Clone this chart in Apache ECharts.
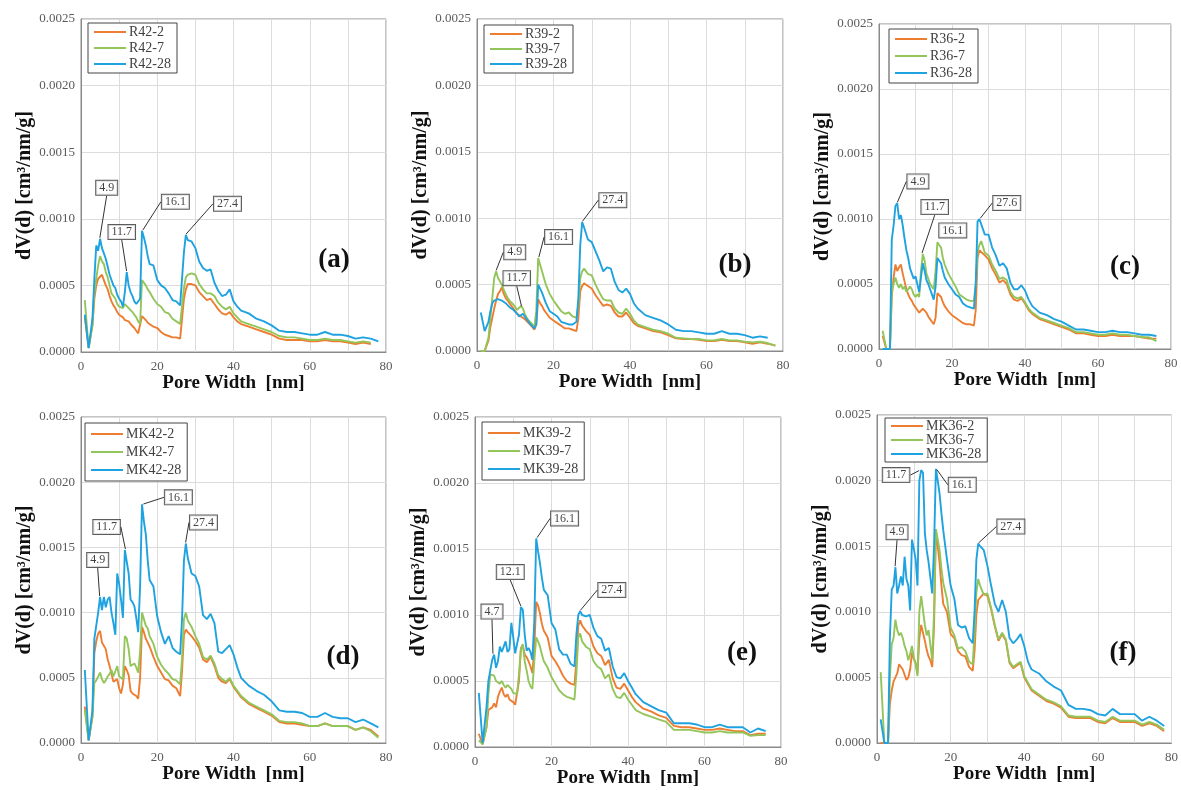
<!DOCTYPE html>
<html><head><meta charset="utf-8">
<script src="https://cdn.jsdelivr.net/npm/echarts@6/dist/echarts.min.js"></script>
<style>html,body{margin:0;padding:0;background:#fff}#c{width:1181px;height:790px}</style>
</head><body><div id="c"></div>
<script>
// Pore width grid (nm)
const X = [1,2,3, 3.5,4,4.5,5,5.5,6,6.5,7,7.5,8, 8.5,9,9.5,10,10.5,11,11.5,12,12.5,13, 13.5,14,14.5,15,15.5,16,16.5,17,17.5,18,
  19,20,21,22,23,24,25,26,26.5,27, 27.5,28,29,30,31,32,33,34,35,36, 37,38,39,40,41,42,44,46,48,50,
  52,54,56,58,60,62,64,66,68,70, 72,74,76,78];
const X_TICKS = [0,20,40,60,80];
// dV(d) values in units of 1e-4 cm3/nm/g
const R42_2 = [2.6,0.3,2.0, 4.0,5.0,5.5,5.6,5.8,5.4,5.0,4.7,4.2,3.8, 3.5,3.3,3.0,2.8,2.7,2.6,2.4,2.5,2.3,2.1, 2.0,1.8,1.6,1.4,1.3,2.7,2.6,2.4,2.2,2.1, 1.9,1.8,1.5,1.3,1.2,1.1,1.1,1.0,1.0,4.0, 4.7,5.1,5.1,5.0,4.5,4.2,3.9,4.0,3.6,3.2, 2.9,2.8,3.0,2.6,2.3,2.1,1.9,1.7,1.5,1.3, 1.0,0.9,0.9,0.9,0.8,0.8,0.9,0.8,0.8,0.7, 0.6,0.7,0.6,null];
const R42_7 = [3.9,0.3,2.0, 4.5,5.5,6.5,7.2,6.8,6.6,6.0,5.6,5.0,4.4, 4.2,4.0,3.6,3.4,3.3,3.3,3.6,3.5,3.3,3.2, 3.0,2.8,2.6,2.3,2.1,5.4,5.2,5.0,4.7,4.5, 4.0,3.6,3.4,3.0,2.9,2.5,2.3,2.1,2.0,4.8, 5.6,5.8,5.9,5.8,5.1,4.7,4.4,4.4,4.2,3.7, 3.4,3.2,3.4,2.9,2.6,2.3,2.1,1.9,1.7,1.5, 1.2,1.1,1.1,1.0,0.9,0.9,1.0,0.9,0.9,0.8, 0.7,0.8,0.7,null];
const R42_28 = [2.8,0.3,2.5, 5.5,8.0,7.6,8.5,7.8,7.4,7.0,6.4,5.8,5.4, 5.0,4.8,4.3,4.0,3.8,3.4,4.5,6.0,5.0,4.5, 4.2,3.8,3.6,3.5,4.0,9.1,8.6,8.0,7.2,6.6, 6.5,5.4,5.0,4.8,4.4,3.9,3.8,3.5,3.6,7.5, 8.8,8.4,8.3,7.8,6.8,6.3,6.1,6.2,5.2,4.6, 4.2,4.3,4.7,3.8,3.4,3.1,2.9,2.5,2.3,2.0, 1.6,1.5,1.5,1.4,1.3,1.3,1.5,1.3,1.3,1.2, 1.0,1.1,1.0,0.8];
const R39_2 = [0,0,0.8, 1.8,2.5,3.2,3.8,4.3,4.5,4.8,4.3,4.0,3.8, 3.6,3.4,3.2,3.0,2.8,2.7,2.6,2.5,2.4,2.3, 2.1,2.0,1.8,1.6,2.0,3.9,3.6,3.4,3.1,2.9, 2.5,2.3,2.1,1.9,1.7,1.7,1.6,1.5,2.5,4.5, 4.9,5.1,4.9,4.7,4.2,3.8,3.4,3.5,3.4,2.9, 2.6,2.6,2.9,2.5,2.1,1.9,1.7,1.5,1.4,1.2, 0.95,0.9,0.9,0.85,0.75,0.75,0.85,0.75,0.75,0.65, 0.55,0.65,0.55,0.4];
const R39_7 = [0,0,1.0, 2.5,4.0,5.5,6.0,5.5,5.6,5.0,4.6,4.3,4.0, 3.8,3.7,3.5,3.3,3.1,3.0,3.4,3.2,2.8,2.5, 2.3,2.2,2.0,1.8,3.0,7.0,6.5,6.0,5.5,5.0, 4.3,3.8,3.4,3.0,2.8,2.9,2.6,2.5,3.5,5.5, 6.0,6.2,5.8,5.7,5.0,4.4,3.9,3.8,3.8,3.2, 2.9,2.8,3.2,2.8,2.3,2.0,1.8,1.6,1.5,1.3, 1.0,0.95,0.9,0.9,0.8,0.8,0.9,0.8,0.8,0.7, 0.65,0.7,0.6,0.4];
const R39_28 = [2.9,1.5,2.2, 3.0,3.6,3.8,3.8,3.9,3.9,3.8,3.8,3.6,3.5, 3.3,3.2,3.1,3.0,2.8,2.6,2.7,2.8,2.6,2.4, 2.2,2.0,1.9,1.7,2.0,5.0,4.7,4.4,4.0,3.6, 3.0,2.8,2.6,2.2,2.1,2.0,2.0,2.2,4.0,8.0, 9.7,9.3,8.4,8.2,7.5,6.8,6.0,6.3,6.2,5.2, 4.6,4.4,4.7,4.3,3.6,3.2,2.7,2.5,2.3,2.0, 1.6,1.5,1.5,1.4,1.3,1.3,1.5,1.3,1.3,1.2, 1.0,1.1,1.0,null];
const R36_2 = [1.0,0,0, 4.0,5.5,6.5,6.0,6.3,6.5,5.8,5.2,4.6,4.2, 3.9,3.7,3.4,3.2,3.0,2.8,2.7,3.1,3.0,2.8, 2.5,2.3,2.1,1.9,2.4,4.3,4.2,4.0,3.6,3.3, 2.9,2.6,2.4,2.2,2.0,1.9,1.9,1.8,3.0,7.0, 7.6,7.7,7.2,6.9,6.2,5.7,5.1,5.3,5.0,4.2, 3.8,3.7,3.9,3.5,3.0,2.7,2.3,2.1,1.9,1.7, 1.5,1.2,1.2,1.1,1.0,1.0,1.1,1.0,1.0,1.0, 0.9,0.8,0.8,null];
const R36_7 = [1.4,0,0, 4.5,5.0,5.5,5.0,4.7,5.0,4.6,4.8,4.4,4.5, 4.8,4.6,4.2,4.0,4.2,4.0,6.0,7.3,6.8,5.8, 5.4,5.0,4.8,4.6,6.0,8.2,8.0,7.8,7.0,6.5, 5.8,5.3,4.8,4.2,4.0,3.8,3.7,3.7,5.0,7.5, 8.0,8.3,7.4,7.2,6.5,6.0,5.4,5.5,5.3,4.4, 4.0,3.9,4.0,3.6,3.1,2.8,2.4,2.2,2.0,1.8, 1.6,1.3,1.3,1.2,1.1,1.1,1.2,1.1,1.1,1.0, 0.9,0.9,0.6,null];
const R36_28 = [0,0,0, 8.4,9.5,11.0,11.2,10.0,10.3,9.5,8.5,7.6,7.0, 6.2,5.8,5.4,5.6,5.0,4.4,5.5,6.6,6.0,5.3, 5.0,4.6,4.2,3.8,4.8,7.0,6.9,6.6,6.0,5.5, 5.0,4.6,4.2,4.0,3.5,3.3,3.2,3.1,5.0,9.8, 10.0,9.9,8.8,8.8,7.8,7.2,6.4,6.6,6.2,5.1, 4.6,4.6,4.9,4.5,3.8,3.3,2.8,2.6,2.3,2.1, 1.8,1.5,1.5,1.4,1.3,1.3,1.4,1.3,1.3,1.2, 1.1,1.1,1.0,null];
const MK42_2 = [2.8,0.2,2.0, 6.9,7.8,8.4,8.6,7.7,7.6,7.2,6.4,5.9,5.3, 4.7,4.6,4.9,4.2,3.8,4.5,5.9,5.6,5.2,4.0, 3.8,3.7,3.6,3.4,5.0,8.9,8.5,8.0,7.7,7.4, 6.6,5.9,5.4,4.9,4.8,4.4,4.2,3.6,5.5,8.3, 8.7,8.5,8.2,7.8,7.3,6.4,6.2,6.6,5.9,5.0, 4.7,4.6,4.9,4.3,3.9,3.5,3.0,2.7,2.4,2.1, 1.6,1.5,1.5,1.4,1.3,1.3,1.5,1.3,1.3,1.3, 1.0,1.2,1.0,0.5];
const MK42_7 = [2.5,0.2,2.0, 4.6,4.8,4.9,5.4,4.9,4.6,4.8,5.1,5.3,5.6, 5.1,5.5,5.9,5.1,5.0,4.9,8.2,8.0,7.2,5.9, 6.0,6.1,5.8,5.4,7.0,10.0,9.5,9.0,8.8,8.2, 7.6,6.6,6.0,5.6,5.3,4.9,4.8,4.5,6.5,9.5, 10.0,9.4,8.9,8.2,7.6,6.6,6.4,6.7,6.1,5.2, 4.9,4.7,5.0,4.4,4.0,3.6,3.1,2.8,2.5,2.2, 1.7,1.6,1.6,1.5,1.3,1.3,1.5,1.3,1.3,1.3, 1.0,1.2,0.9,0.4];
const MK42_28 = [5.6,0.2,2.5, 8.0,9.0,10.0,11.2,10.2,11.2,10.4,11.0,11.2,10.0, 9.2,8.3,13.0,12.2,11.0,9.6,14.8,14.7,13.0,11.0, 10.8,10.5,9.6,8.5,12.0,18.3,17.0,16.0,14.0,12.5, 12.0,9.7,8.5,7.6,8.2,7.3,7.0,6.8,9.5,14.0, 15.3,14.2,13.0,12.8,12.0,9.8,9.5,9.9,9.2,7.0, 6.9,7.2,7.5,6.8,5.8,5.0,4.4,4.0,3.7,3.2, 2.5,2.4,2.4,2.3,2.0,2.0,2.3,2.0,1.9,1.9, 1.6,1.8,1.5,1.2];
const MK39_2 = [1.0,0.2,1.5, 2.8,2.9,3.0,3.3,3.0,3.8,4.2,4.5,4.0,3.8, 4.0,3.6,3.5,3.4,3.2,3.1,5.0,7.5,7.7,7.0, 6.8,6.5,6.1,5.6,7.5,11.0,10.7,10.1,9.3,8.8, 8.3,6.9,6.5,6.0,5.4,5.0,4.8,4.7,6.5,9.2, 9.6,9.2,8.8,8.5,7.6,7.1,6.9,6.2,6.6,5.2, 4.5,4.4,4.8,4.3,3.8,3.4,2.9,2.7,2.4,2.2, 1.6,1.5,1.5,1.4,1.3,1.3,1.4,1.3,1.2,1.2, 0.9,1.0,1.0,null];
const MK39_7 = [0.5,0.2,1.5, 4.0,5.5,5.6,5.4,5.0,5.1,4.8,5.0,4.7,4.5, 4.7,4.8,4.4,4.1,4.2,4.0,5.5,7.4,7.8,6.5, 5.8,5.0,4.6,4.4,6.5,8.3,8.0,7.6,7.0,6.5, 6.0,5.3,4.8,4.3,4.0,3.8,3.7,3.6,5.5,8.3, 8.6,8.0,7.6,7.4,6.5,6.1,5.9,5.2,5.5,4.4, 3.8,3.7,4.1,3.6,3.2,2.8,2.5,2.3,2.1,1.9, 1.3,1.3,1.3,1.2,1.1,1.1,1.2,1.1,1.1,1.1, 0.85,0.9,0.9,null];
const MK39_28 = [4.1,0.3,3.0, 5.0,5.8,6.6,7.0,6.0,6.5,7.6,7.2,7.1,8.0, 7.2,7.4,9.4,8.3,7.1,7.8,8.5,10.6,10.4,8.5, 7.3,7.5,7.2,6.6,9.5,15.8,14.8,13.9,12.8,11.9, 11.5,9.4,8.9,7.4,7.0,7.0,6.3,6.1,8.5,10.0, 10.3,10.0,9.9,10.0,9.0,8.4,8.2,7.3,7.5,6.1, 5.3,5.2,5.6,5.0,4.5,4.0,3.4,3.1,2.8,2.6, 1.8,1.8,1.8,1.7,1.5,1.5,1.7,1.5,1.5,1.5, 1.1,1.4,1.2,null];
const MK36_2 = [0,0,0, 3.0,4.0,4.7,5.0,5.3,6.0,6.1,5.6,5.5,4.8, 5.0,5.6,6.9,6.4,6.1,5.3,8.0,9.0,8.9,7.8, 7.1,6.6,6.3,5.8,9.0,16.2,15.0,13.7,12.0,10.6, 10.0,8.3,8.0,7.0,6.7,6.6,5.8,5.5,7.0,9.8, 10.9,11.0,11.4,11.2,10.2,8.9,7.8,8.3,7.8,6.1, 5.7,5.9,6.1,5.0,4.5,4.0,3.6,3.2,3.0,2.7, 2.0,1.9,1.9,1.9,1.6,1.5,1.9,1.6,1.6,1.6, 1.3,1.5,1.3,0.9];
const MK36_7 = [5.4,0,0, 5.0,7.5,8.0,9.4,8.6,8.2,8.4,8.0,7.4,7.0, 6.3,6.8,7.4,6.5,6.0,5.1,10.0,11.2,11.2,9.0, 8.2,8.6,7.5,6.3,10.0,16.3,15.5,14.7,13.3,12.2, 11.0,8.8,8.2,7.2,7.3,7.0,6.2,6.0,8.5,11.5, 12.5,12.0,11.3,11.4,10.3,9.0,7.9,8.4,7.9,6.2, 5.8,6.0,6.2,5.1,4.6,4.1,3.7,3.3,3.1,2.8, 2.1,2.0,2.0,2.0,1.7,1.6,2.0,1.7,1.7,1.7, 1.4,1.6,1.4,1.0];
const MK36_28 = [1.8,0,0, 8.0,11.7,12.0,13.4,11.4,12.0,12.7,12.0,14.2,12.5, 12.0,10.1,15.5,14.8,14.0,12.0,20.0,20.8,20.6,16.0, 14.7,13.8,13.7,11.4,15.0,20.9,20.0,19.0,17.5,16.2, 14.0,12.0,11.0,9.0,8.8,8.9,8.0,7.6,10.0,14.0, 15.2,15.0,14.7,13.5,12.0,10.6,10.0,10.9,10.0,8.0, 7.6,7.9,8.3,7.4,6.2,5.6,5.3,4.7,4.3,4.0, 2.9,2.6,2.6,2.5,2.2,2.1,2.6,2.2,2.2,2.2, 1.7,2.0,1.7,1.3];
// Peak annotations: [pore width, value (1e-4), text]
const ANN_A = [[4.9,8.5,'4.9'],[12,6.0,'11.7'],[16.1,9.1,'16.1'],[27.4,8.8,'27.4']];
const ANN_B = [[4.9,6.0,'4.9'],[11.7,3.3,'11.7'],[16.1,7.0,'16.1'],[27.4,9.7,'27.4']];
const ANN_C = [[4.9,11.2,'4.9'],[11.7,7.3,'11.7'],[16.1,8.2,'16.1'],[27.6,10.0,'27.6']];
const ANN_D = [[4.9,11.2,'4.9'],[11.7,14.8,'11.7'],[16.1,18.3,'16.1'],[27.4,15.3,'27.4']];
const ANN_E = [[4.7,7.0,'4.7'],[12.1,10.6,'12.1'],[16.1,15.8,'16.1'],[27.4,10.3,'27.4']];
const ANN_F = [[4.9,13.4,'4.9'],[11.7,20.8,'11.7'],[16.1,20.9,'16.1'],[27.4,15.2,'27.4']];
const LETTERS = ['(a)','(b)','(c)','(d)','(e)','(f)'];

// ---- layout / style (not data) ----
const COLORS = ['#ED7D31', '#92C55A', '#1FA2E0'];
const FONT = '"Liberation Serif", "DejaVu Serif", serif';
const PANELS = [
  {names:['R42-2','R42-7','R42-28'], vals:[R42_2,R42_7,R42_28], ann:ANN_A,
   off:[[7,-51],[-5,-40],[33,-29],[42,-31]], noLine:[],
   grid:{left:81,top:19,width:305,height:333}, leg:{left:88,top:23,gap:2,pad:[2,6]}, letter:[334,260]},
  {names:['R39-2','R39-7','R39-28'], vals:[R39_2,R39_7,R39_28], ann:ANN_B,
   off:[[19,-19],[-5,-29],[20,-21],[31,-22]], noLine:[],
   grid:{left:477,top:19,width:306,height:332}, leg:{left:484,top:25,gap:1,pad:[2,6]}, letter:[735,265]},
  {names:['R36-2','R36-7','R36-28'], vals:[R36_2,R36_7,R36_28], ann:ANN_C,
   off:[[21,-22],[13,-47],[15,-12],[27,-16]], noLine:[2],
   grid:{left:879,top:24,width:292,height:325}, leg:{left:889,top:29,gap:3,pad:[3,6]}, letter:[1125,267]},
  {names:['MK42-2','MK42-7','MK42-28'], vals:[MK42_2,MK42_7,MK42_28], ann:ANN_D,
   off:[[-2,-37],[-19,-23],[36,-7],[18,-21]], noLine:[],
   grid:{left:81,top:417,width:305,height:326}, leg:{left:85,top:423,gap:4,pad:[4,6]}, letter:[343,657]},
  {names:['MK39-2','MK39-7','MK39-28'], vals:[MK39_2,MK39_7,MK39_28], ann:ANN_E,
   off:[[-1,-43],[-11,-35],[28,-20],[32,-21]], noLine:[],
   grid:{left:475,top:417,width:306,height:330}, leg:{left:482,top:422,gap:4,pad:[4,6]}, letter:[742,653]},
  {names:['MK36-2','MK36-7','MK36-28'], vals:[MK36_2,MK36_7,MK36_28], ann:ANN_F,
   off:[[2,-35],[-24,5],[26,16],[33,-17]], noLine:[],
   grid:{left:877,top:415,width:298,height:328}, leg:{left:885,top:418,gap:0,pad:[1,6], lh:13}, letter:[1123,653]}
];

const grids = [], xAxes = [], yAxes = [], series = [], legends = [], graphics = [];
PANELS.forEach((p, k) => {
  grids.push(Object.assign({show:true, borderColor:'#8a8a8a', borderWidth:1, containLabel:false}, p.grid));
  xAxes.push({gridIndex:k, type:'value', min:0, max:80, interval:10,
    axisLine:{show:true, onZero:false, lineStyle:{color:'#8a8a8a', width:1}},
    axisTick:{show:false},
    axisLabel:{fontFamily:FONT, fontSize:13, color:'#5a5a5a', margin:8,
      formatter: v => X_TICKS.indexOf(v) >= 0 ? String(v) : ''},
    splitLine:{show:true, lineStyle:{color:'#dcdcdc', width:1}},
    name:'Pore Width  [nm]', nameLocation:'middle', nameGap:20,
    nameTextStyle:{fontFamily:FONT, fontWeight:'bold', fontSize:19, color:'#111'}});
  yAxes.push({gridIndex:k, type:'value', min:0, max:25, interval:5,
    axisLine:{show:true, onZero:false, lineStyle:{color:'#8a8a8a', width:1}},
    axisTick:{show:false},
    axisLabel:{fontFamily:FONT, fontSize:13, color:'#5a5a5a', margin:6,
      formatter: v => (v / 10000).toFixed(4)},
    splitLine:{show:true, lineStyle:{color:'#dcdcdc', width:1}},
    name:'dV(d) [cm³/nm/g]', nameLocation:'middle', nameGap:46, nameRotate:90,
    nameTextStyle:{fontFamily:FONT, fontWeight:'bold', fontSize:20, color:'#111'}});
  p.names.forEach((nm, j) => {
    const vals = p.vals[j];
    const data = [];
    X.forEach((x, i) => { if (vals[i] !== null && vals[i] !== undefined) data.push([x, vals[i]]); });
    series.push({type:'line', name:nm, xAxisIndex:k, yAxisIndex:k, data:data,
      symbol:'none', showSymbol:false, smooth:false, animation:false,
      lineStyle:{color:COLORS[j], width:1.9}, itemStyle:{color:COLORS[j]}, z:2+j});
  });
  const off = p.off;
  series.push({type:'scatter', xAxisIndex:k, yAxisIndex:k, animation:false, silent:true, z:10,
    symbolSize:2, itemStyle:{color:'rgba(0,0,0,0)'},
    data: p.ann.map((a, i) => ({value:[a[0], a[1]], name:a[2],
      labelLine:{show: p.noLine.indexOf(i) < 0}})),
    label:{show:true, position:'inside', formatter:'{b}', fontFamily:FONT, fontSize:12, color:'#111',
      backgroundColor:'#fff', borderColor:'#333', borderWidth:1, padding:[2,3,0,3]},
    labelLine:{show:true, lineStyle:{color:'#333', width:1}},
    labelLayout: (prm) => ({dx: off[prm.dataIndex][0], dy: off[prm.dataIndex][1], hideOverlap:false})
  });
  legends.push({data:p.names.map(n => ({name:n, icon:'rect'})), orient:'vertical', left:p.leg.left, top:p.leg.top,
    borderColor:'#444', borderWidth:1, backgroundColor:'#fff', padding:p.leg.pad,
    itemWidth:32, itemHeight:2, itemGap:p.leg.gap, selectedMode:false,
    textStyle:{fontFamily:FONT, fontSize:14, color:'#404040', padding:[0,0,0,-2], lineHeight:p.leg.lh || 14}});
  graphics.push({type:'text', x:p.letter[0], y:p.letter[1], z:20,
    style:{text:LETTERS[k], fontFamily:'Liberation Serif', fontWeight:'bold', fontSize:27, fill:'#111',
      align:'center', verticalAlign:'middle'}});
});

const chart = echarts.init(document.getElementById('c'), null, {renderer:'canvas'});
chart.setOption({backgroundColor:'#fff', animation:false, grid:grids, xAxis:xAxes, yAxis:yAxes,
  series:series, legend:legends, graphic:graphics});
</script></body></html>
